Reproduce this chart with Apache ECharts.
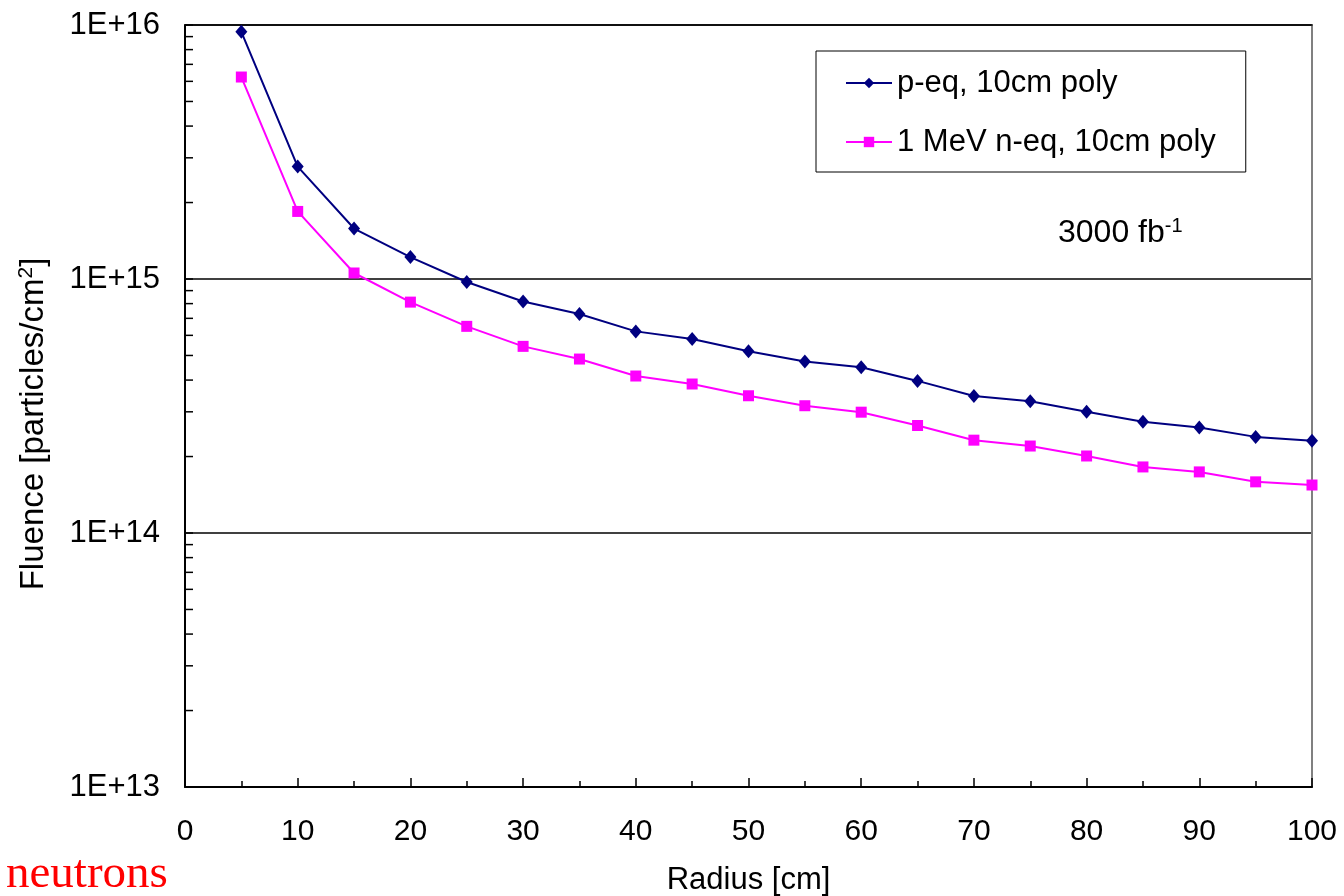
<!DOCTYPE html>
<html><head><meta charset="utf-8">
<script src="https://cdn.jsdelivr.net/npm/echarts@6/dist/echarts.min.js"></script>
<style>html,body{margin:0;padding:0;background:#fff}#c{width:1344px;height:896px}</style>
</head><body><div id="c"></div>
<script>
const radius = [5,10,15,20,25,30,35,40,45,50,55,60,65,70,75,80,85,90,95,100];
const pEq = [9.4e15,2.77e15,1.58e15,1.22e15,9.73e14,8.16e14,7.28e14,6.22e14,5.80e14,5.19e14,4.73e14,4.49e14,3.97e14,3.46e14,3.30e14,3.00e14,2.74e14,2.60e14,2.39e14,2.31e14];
const nEq = [6.24e15,1.845e15,1.056e15,8.11e14,6.51e14,5.43e14,4.84e14,4.15e14,3.86e14,3.47e14,3.17e14,2.99e14,2.65e14,2.32e14,2.20e14,2.01e14,1.82e14,1.74e14,1.59e14,1.545e14];
const seriesNames = ['p-eq, 10cm poly','1 MeV n-eq, 10cm poly'];
const decades = [1e13,1e14,1e15];
const minorMultipliers = [2,3,4,5,6,7,8,9];
const minorTickValues = [];
decades.forEach(d => minorMultipliers.forEach(m => minorTickValues.push([0, d*m])));

const FONT = 'Liberation Sans, Arial, sans-serif';
const chart = echarts.init(document.getElementById('c'));
chart.setOption({
  animation: false,
  grid: {left: 185, right: 32, top: 25, bottom: 109, show: false, containLabel: false, outerBoundsMode: 'none'},
  legend: {
    data: seriesNames,
    orient: 'vertical',
    left: 816, top: 51,
    padding: [15, 30, 13, 29],
    itemGap: 25,
    itemWidth: 46, itemHeight: 13,
    borderColor: '#000', borderWidth: 1,
    textStyle: {fontFamily: FONT, fontSize: 31, color: '#000', lineHeight: 34}
  },
  xAxis: [{
    type: 'value', min: 0, max: 100, interval: 10,
    name: 'Radius [cm]', nameLocation: 'middle', nameGap: 78,
    nameTextStyle: {fontFamily: FONT, fontSize: 31, color: '#000'},
    axisLine: {lineStyle: {color: '#000', width: 2}},
    axisTick: {inside: true, length: 9, lineStyle: {color: '#000', width: 1.5}},
    minorTick: {show: true, splitNumber: 2, length: 6, lineStyle: {color: '#000', width: 1.5}},
    axisLabel: {fontFamily: FONT, fontSize: 30, color: '#000', margin: 30},
    splitLine: {show: false}
  }, {
    type: 'value', min: 0, max: 100, position: 'top',
    axisLine: {show: true, onZero: false, lineStyle: {color: '#000', width: 1.5}},
    axisTick: {show: false}, axisLabel: {show: false}, splitLine: {show: false}
  }],
  yAxis: [{
    type: 'log', logBase: 10, min: 1e13, max: 1e16,
    name: 'Fluence [particles/cm{sup|2}]', nameLocation: 'middle', nameGap: 134,
    nameTextStyle: {fontFamily: FONT, fontSize: 33, color: '#000', padding: [0, 36, 0, 0],
      rich: {sup: {fontFamily: FONT, fontSize: 21, color: '#000', verticalAlign: 'top', padding: [0,0,14,0]}}},
    axisLine: {show: true, onZero: false, lineStyle: {color: '#000', width: 2}},
    axisTick: {inside: true, length: 8, lineStyle: {color: '#000', width: 1.5}},
    axisLabel: {fontFamily: FONT, fontSize: 31, color: '#000', margin: 25,
      formatter: v => '1E+' + Math.round(Math.log10(v))},
    splitLine: {show: true, lineStyle: {color: '#000', width: 1.5}}
  }, {
    type: 'log', logBase: 10, min: 1e13, max: 1e16, position: 'right',
    axisLine: {show: true, onZero: false, lineStyle: {color: '#808080', width: 2}},
    axisTick: {show: false}, axisLabel: {show: false}, splitLine: {show: false}
  }],
  series: [{
    name: seriesNames[0], type: 'line',
    data: radius.map((r,i) => [r, pEq[i]]),
    symbol: 'diamond', symbolSize: [12, 14],
    lineStyle: {color: '#000080', width: 2},
    itemStyle: {color: '#000080'},
    z: 3
  }, {
    name: seriesNames[1], type: 'line',
    data: radius.map((r,i) => [r, nEq[i]]),
    symbol: 'rect', symbolSize: 11,
    lineStyle: {color: '#FF00FF', width: 2},
    itemStyle: {color: '#FF00FF'},
    z: 2
  }, {
    name: 'minorTicks', type: 'custom',
    data: minorTickValues,
    silent: true, clip: false,
    renderItem: (params, api) => {
      const p = api.coord([api.value(0), api.value(1)]);
      return {type: 'line', shape: {x1: p[0], y1: p[1], x2: p[0] + 8, y2: p[1]},
        style: {stroke: '#000', lineWidth: 1.5}};
    }
  }],
  graphic: [{
    type: 'text', left: 1058, top: 216,
    style: {text: '3000 fb{sup|-1}', fill: '#000', font: '32px ' + FONT,
      rich: {sup: {fontSize: 20, fontFamily: FONT, fill: '#000', verticalAlign: 'top', padding: [0,0,14,0]}}}
  }, {
    type: 'text', left: 6, top: 851,
    style: {text: 'neutrons', fill: '#FF0000', font: '47px "Liberation Serif", "Times New Roman", serif'}
  }]
});
</script></body></html>
